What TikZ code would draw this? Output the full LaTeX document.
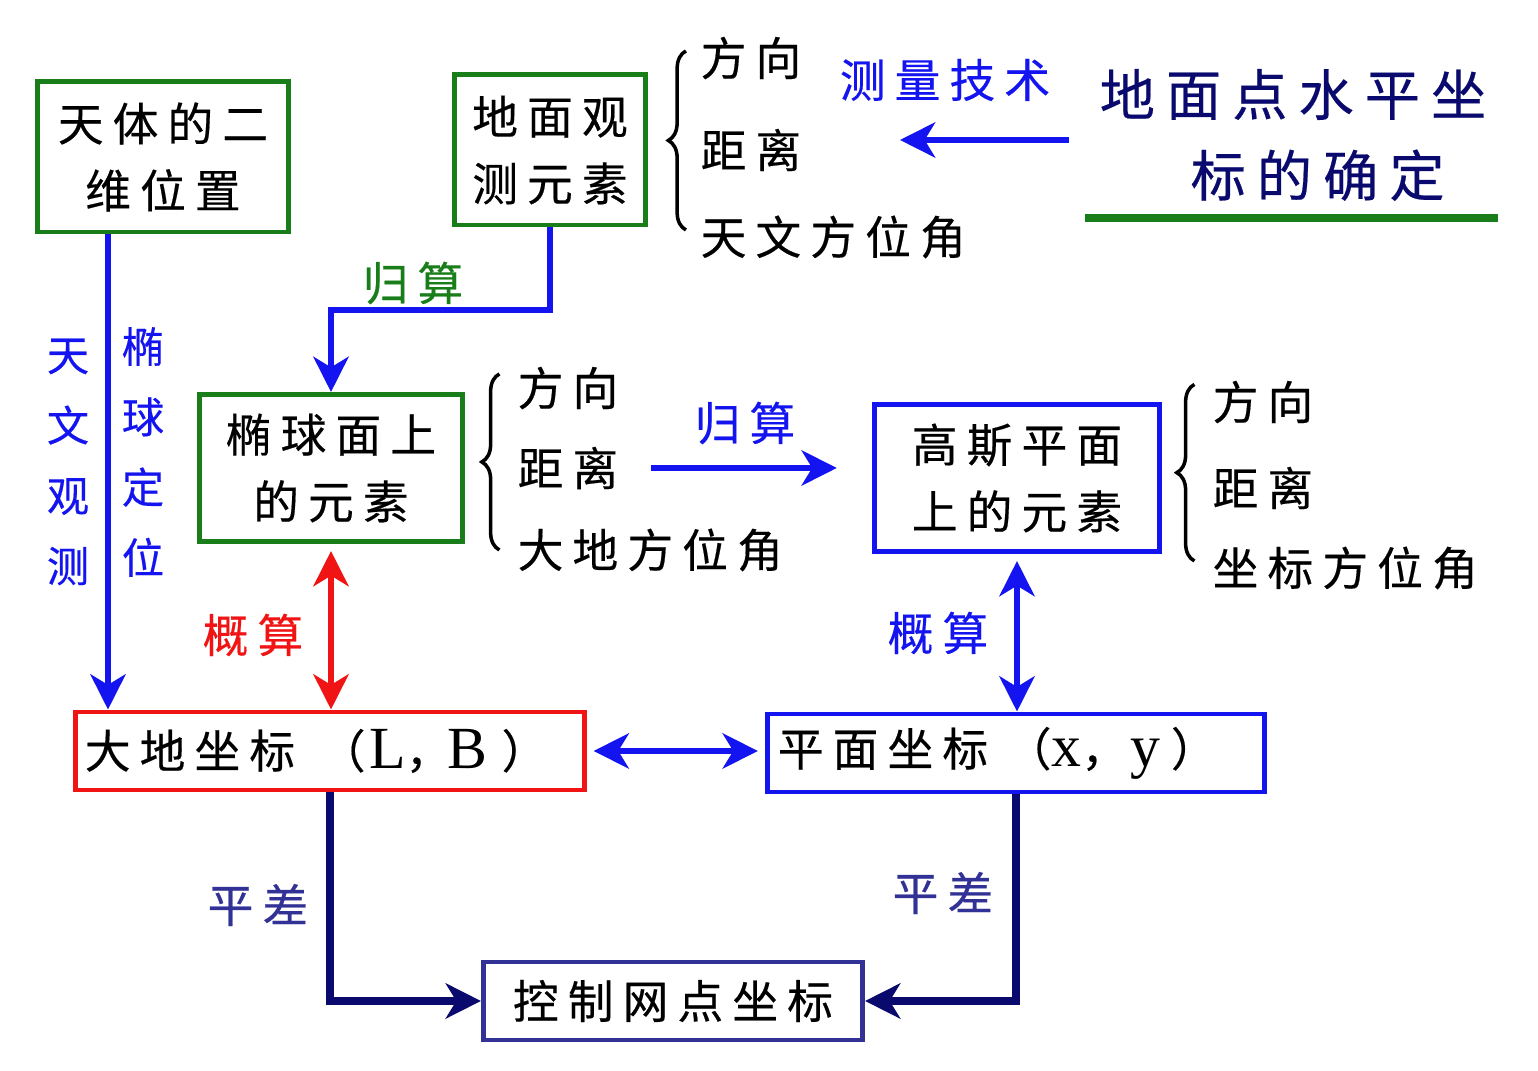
\documentclass[tikz,border=0pt]{standalone}
\usepackage{fontspec}
\setmainfont{Noto Sans CJK SC}[LetterSpace=20, FakeBold=0.4]
\newfontfamily\lat{Liberation Serif}
\usetikzlibrary{arrows.meta,positioning,decorations.pathreplacing}
\definecolor{boxgreen}{RGB}{25,125,25}
\definecolor{myblue}{RGB}{20,20,240}
\definecolor{myred}{RGB}{240,20,20}
\definecolor{navy}{RGB}{10,10,110}
\definecolor{slate}{RGB}{50,50,150}
\newcommand\latn[1]{{\lat\fontsize{17}{17}\selectfont #1}}

\begin{document}
\begin{tikzpicture}[x=0.01cm,y=-0.01cm,
    >={Stealth[length=10pt,width=10pt,inset=3pt]},
    box/.style={draw, line width=1.4pt, align=center, inner sep=0pt,
      font=\fontsize{13}{19}\selectfont},
    item/.style={anchor=west, inner sep=0pt, font=\fontsize{13}{15}\selectfont},
    lbl/.style={inner sep=0pt, font=\fontsize{13}{15}\selectfont},
    vlbl/.style={inner sep=0pt, align=center, font=\fontsize{12}{20}\selectfont},
    link/.style={line width=1.7pt},
    brc/.style={decorate, decoration={brace, amplitude=5pt}, line width=1pt}
  ]
  \useasboundingbox (0,0) rectangle (1538,1071);

  % boxes
  \node[box, draw=boxgreen, minimum width=2.5cm, minimum height=1.5cm] (tianti) at (163,157) {天体的二\\维位置};
  \node[box, draw=boxgreen, minimum width=1.9cm, minimum height=1.5cm] (dimian) at (550,150) {地面观\\测元素};
  \node[box, draw=boxgreen, minimum width=2.62cm, minimum height=1.47cm] (tuoqiu) at (331,468) {椭球面上\\的元素};
  \node[box, draw=myblue, minimum width=2.85cm, minimum height=1.47cm] (gauss) at (1017,478) {高斯平面\\上的元素};
  \node[box, draw=myred, minimum width=5.08cm, minimum height=0.78cm, text width=4.9cm, align=left] (dadi) at (330,751)
    {大地坐标\hspace{7pt}（\hspace{1pt}\latn{L}，\hspace{-1pt}\latn{B}\hspace{4pt}）};
  \node[box, draw=myblue, minimum width=4.97cm, minimum height=0.78cm, text width=4.76cm, align=left] (pingmian) at (1016,753)
    {平面坐标\hspace{5pt}（\latn{x}，\hspace{1pt}\latn{y}\hspace{3pt}）};
  \node[box, draw=slate, minimum width=3.79cm, minimum height=0.78cm] (kongzhi) at (673,1001) {控制网点坐标};

  % title
  \node[align=center, inner sep=0pt, text=navy, font=\fontsize{15.7}{23}\selectfont] (title) at (1293,135)
    {地面点水平坐\\\hspace*{14pt}标的确定};
  \draw[boxgreen, line width=2.3pt] (1085,218) -- (1498,218);

  % element lists
  \node[item] (dm1) at (700,58) {方向};
  \node[item] (dm2) at (700,150) {距离};
  \node[item] (dm3) at (700,237) {天文方位角};
  \node[item] (tq1) at (517,388) {方向};
  \node[item] (tq2) at (517,468) {距离};
  \node[item] (tq3) at (517,550) {大地方位角};
  \node[item] (gs1) at (1212,402) {方向};
  \node[item] (gs2) at (1212,488) {距离};
  \node[item] (gs3) at (1212,568) {坐标方位角};
  \draw[brc] ([xshift=-4pt,yshift=2pt]dm3.west) -- ([xshift=-4pt,yshift=2pt]dm1.west);
  \draw[brc] ([xshift=-5pt]tq3.west) -- ([xshift=-5pt,yshift=4pt]tq1.west);
  \draw[brc] ([xshift=-5pt,yshift=2pt]gs3.west) -- ([xshift=-5pt,yshift=5pt]gs1.west);

  % labels
  \node[lbl, text=myblue] (jishu) at (945,80) {测量技术};
  \node[lbl, text=boxgreen] (gui1) at (413,283) {归算};
  \node[lbl, text=myblue] (gui2) at (745,423) {归算};
  \node[lbl, text=myred] (gai1) at (253,635) {概算};
  \node[lbl, text=myblue] (gai2) at (938,633) {概算};
  \node[lbl, text=slate] (ping1) at (258,905) {平差};
  \node[lbl, text=slate] (ping2) at (943,893) {平差};
  \node[vlbl, text=myblue] (tw) at (68,462) {天\\文\\观\\测};
  \node[vlbl, text=myblue] (dw) at (143,452) {椭\\球\\定\\位};

  % connectors
  \coordinate (cl) at (900,140);
  \draw[link, myblue, ->] (title.west) ++(-30,5) -- (cl);
  \draw[link, myblue, ->] (tianti.south) ++(-55,0) coordinate (tv) -- (tv |- dadi.north);
  \draw[link, myblue, ->] (dimian.south) -- ++(0,83) -| (tuoqiu.north);
  \draw[link, myblue, ->, shorten <=9pt, shorten >=10pt] (tq2.east) -- (tq2.east -| gauss.west);
  \draw[link, myred, <->, shorten <=2pt] (tuoqiu.south) -- (tuoqiu.south |- dadi.north);
  \draw[link, myblue, <->, shorten <=2pt] (gauss.south) -- (gauss.south |- pingmian.north);
  \draw[link, myblue, <->, shorten <=2pt, shorten >=2pt] (dadi.east) -- (dadi.east -| pingmian.west);
  \draw[link, navy, line width=2pt, ->] (dadi.south) |- (kongzhi.west);
  \draw[link, navy, line width=2pt, ->] (pingmian.south) |- (kongzhi.east);

\end{tikzpicture}
\end{document}
